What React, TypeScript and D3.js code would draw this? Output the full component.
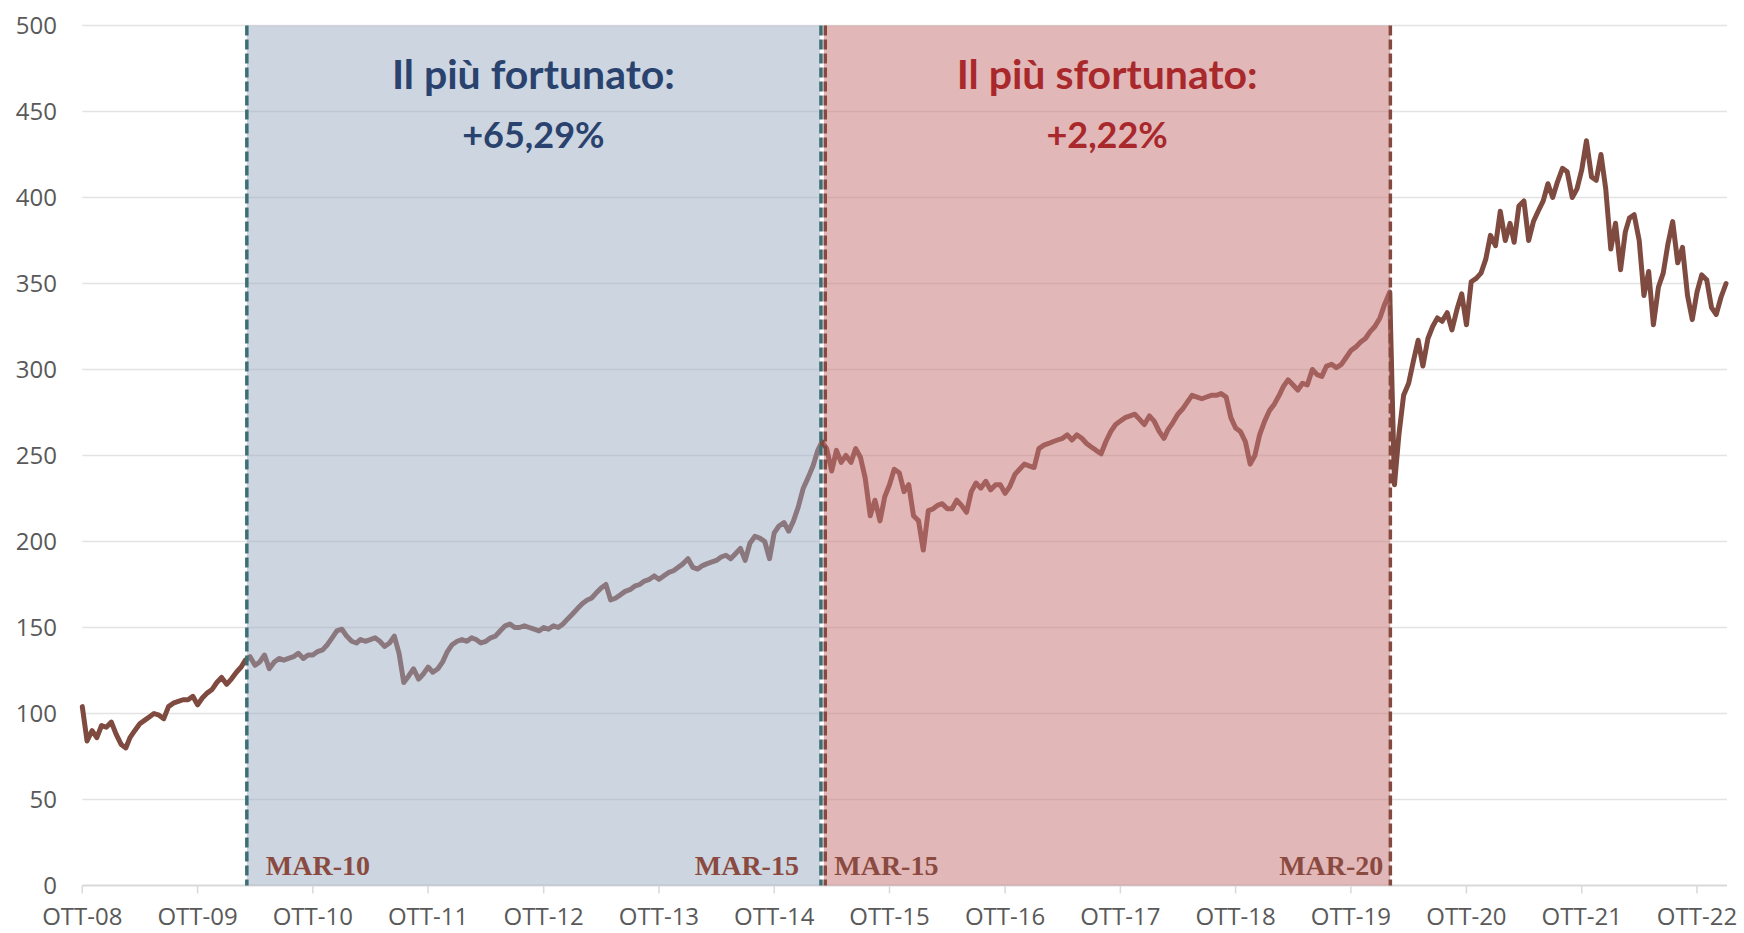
import React, { useRef, useEffect } from 'react';
import * as d3 from 'd3';

// tick labels
const xTickLabels = [
  'OTT-08', 'OTT-09', 'OTT-10', 'OTT-11', 'OTT-12', 'OTT-13', 'OTT-14', 'OTT-15',
  'OTT-16', 'OTT-17', 'OTT-18', 'OTT-19', 'OTT-20', 'OTT-21', 'OTT-22',
];
const yTicks = [0, 50, 100, 150, 200, 250, 300, 350, 400, 450, 500];

// index values, read twice a month (1st and 16th), one array per OTT year
const v08 = [104, 84, 90, 86, 93, 92, 95, 88, 82, 80, 86, 90, 94, 96, 98, 100, 99, 97, 104, 106, 107, 108, 108, 110];
const v09 = [105, 109, 112, 114, 118, 121, 117, 120, 124, 127, 131, 133, 128, 130, 134, 126, 130, 132, 131, 132, 133, 135, 132, 134];
const v10 = [134, 136, 137, 140, 144, 148, 149, 145, 142, 141, 143, 142, 143, 144, 142, 139, 141, 145, 135, 118, 122, 126, 120, 123];
const v11 = [127, 124, 126, 130, 136, 140, 142, 143, 142, 144, 143, 141, 142, 144, 145, 148, 151, 152, 150, 150, 151, 150, 149, 148];
const v12 = [150, 149, 151, 150, 152, 155, 158, 161, 164, 166, 167, 170, 173, 175, 166, 167, 169, 171, 172, 174, 175, 177, 178, 180];
const v13 = [178, 180, 182, 183, 185, 187, 190, 185, 184, 186, 187, 188, 189, 191, 192, 190, 193, 196, 189, 199, 203, 202, 200, 190];
const v14 = [205, 209, 211, 206, 212, 220, 231, 237, 244, 253, 258, 254, 241, 253, 246, 250, 246, 254, 249, 237, 215, 224, 212, 226];
const v15 = [233, 242, 240, 229, 233, 215, 212, 195, 218, 219, 221, 222, 219, 219, 224, 221, 217, 229, 234, 231, 235, 230, 233, 233];
const v16 = [228, 232, 239, 242, 245, 244, 243, 254, 256, 257, 258, 259, 260, 262, 259, 262, 260, 257, 255, 253, 251, 258, 264, 268];
const v17 = [270, 272, 273, 274, 271, 268, 273, 270, 264, 260, 265, 269, 274, 277, 281, 285, 284, 283, 284, 285, 285, 286, 284, 272];
const v18 = [266, 264, 258, 245, 250, 262, 270, 276, 280, 285, 290, 294, 291, 288, 292, 291, 300, 297, 296, 302, 303, 301, 303, 307];
const v19 = [311, 313, 316, 318, 322, 325, 330, 338, 345, 233, 262, 285, 292, 305, 317, 302, 318, 325, 330, 328, 333, 323, 335, 344];
const v20 = [326, 351, 353, 356, 364, 378, 372, 392, 375, 385, 374, 395, 398, 375, 386, 392, 398, 408, 400, 409, 417, 415, 400, 405];
const v21 = [416, 433, 412, 410, 425, 405, 370, 385, 358, 380, 388, 390, 375, 343, 357, 326, 348, 356, 373, 386, 362, 371, 343, 329];
const v22 = [345, 355, 352, 336, 332, 342, 350];
const yearSeries = [v08, v09, v10, v11, v12, v13, v14, v15, v16, v17, v18, v19, v20, v21, v22];

// highlighted periods
const periodTitles = ['Il più fortunato:', 'Il più sfortunato:'];
const periodResults = ['+65,29%', '+2,22%'];
const periodStarts = ['2010-03-06', '2015-02-26'];
const periodEnds = ['2015-02-26', '2020-02-03'];
const startLabels = ['MAR-10', 'MAR-15'];
const endLabels = ['MAR-15', 'MAR-20'];

const fills = ['rgb(153,169,192)', 'rgb(197,117,119)'];
const fillOpacity = [0.49, 0.52];
const dashColors = ['#3d6f75', '#844a40'];
const titleColors = ['#29426e', '#a8282c'];

const W = 1744;
const H = 933;
const left = 82.3;
const right = 1727;
const top = 25.5;
const bottom = 885.5;

function App() {
  const ref = useRef<SVGSVGElement | null>(null);

  useEffect(() => {
    if (!ref.current) return;
    const svg = d3.select(ref.current);
    svg.selectAll('*').remove();

    const parse = d3.timeParse('%Y-%m-%d');
    const data: { date: Date; value: number }[] = [];
    yearSeries.forEach((vals, i) => {
      vals.forEach((v, k) => {
        data.push({ date: new Date(2008 + i, 9 + Math.floor(k / 2), k % 2 ? 16 : 1), value: v });
      });
    });

    const x = d3
      .scaleTime()
      .domain([new Date(2008, 9, 1), new Date(2023, 0, 4)])
      .range([left, right]);
    const y = d3.scaleLinear().domain([0, 500]).range([bottom, top]);
    const tickDates = xTickLabels.map((_, i) => new Date(2008 + i, 9, 1));

    // grid
    svg
      .append('g')
      .selectAll('line')
      .data(yTicks.filter((t) => t > 0))
      .join('line')
      .attr('x1', left)
      .attr('x2', right)
      .attr('y1', (d) => y(d))
      .attr('y2', (d) => y(d))
      .attr('stroke', '#e3e3e3')
      .attr('stroke-width', 1.5);

    // y labels
    svg
      .append('g')
      .selectAll('text')
      .data(yTicks)
      .join('text')
      .attr('x', 57)
      .attr('y', (d) => y(d))
      .attr('dy', '0.36em')
      .attr('text-anchor', 'end')
      .attr('font-family', '"Open Sans", sans-serif')
      .attr('font-size', 24)
      .attr('fill', '#595959')
      .text((d) => d);

    // x axis
    svg
      .append('line')
      .attr('x1', left)
      .attr('x2', right)
      .attr('y1', y(0))
      .attr('y2', y(0))
      .attr('stroke', '#d9d9d9')
      .attr('stroke-width', 2);
    svg
      .append('g')
      .selectAll('line')
      .data(tickDates)
      .join('line')
      .attr('x1', (d) => x(d))
      .attr('x2', (d) => x(d))
      .attr('y1', y(0))
      .attr('y2', y(0) + 8)
      .attr('stroke', '#d9d9d9')
      .attr('stroke-width', 1.5);
    svg
      .append('g')
      .selectAll('text')
      .data(tickDates)
      .join('text')
      .attr('x', (d) => x(d))
      .attr('y', 925)
      .attr('text-anchor', 'middle')
      .attr('font-family', '"Open Sans", sans-serif')
      .attr('font-size', 24)
      .attr('fill', '#595959')
      .text((_, i) => xTickLabels[i]);

    // the index line
    svg
      .append('path')
      .datum(data)
      .attr('fill', 'none')
      .attr('stroke', '#7f4a40')
      .attr('stroke-width', 5)
      .attr('stroke-linejoin', 'round')
      .attr('stroke-linecap', 'round')
      .attr(
        'd',
        d3
          .line<{ date: Date; value: number }>()
          .x((d) => x(d.date))
          .y((d) => y(d.value)),
      );

    // shaded periods, dashed borders and labels
    periodTitles.forEach((title, i) => {
      const x0 = x(parse(periodStarts[i]) as Date) + (i === 1 ? 3 : 0);
      const x1 = x(parse(periodEnds[i]) as Date) - (i === 0 ? 1 : 0);
      svg
        .append('rect')
        .attr('x', x0)
        .attr('y', y(500))
        .attr('width', x1 - x0)
        .attr('height', y(0) - y(500))
        .attr('fill', fills[i])
        .attr('fill-opacity', fillOpacity[i]);

      const xa = i === 1 ? x0 + 1.3 : x0;
      const xb = i === 0 ? x1 + 1 : x1;
      [xa, xb].forEach((xx) => {
        svg
          .append('line')
          .attr('x1', xx)
          .attr('x2', xx)
          .attr('y1', y(500))
          .attr('y2', y(0))
          .attr('stroke', dashColors[i])
          .attr('stroke-width', 3.5)
          .attr('stroke-dasharray', '10,4');
      });

      const cx = (x0 + x1) / 2;
      svg
        .append('text')
        .attr('x', cx)
        .attr('y', 89)
        .attr('text-anchor', 'middle')
        .attr('font-family', 'Lato, sans-serif')
        .attr('font-weight', 700)
        .attr('font-size', 41)
        .attr('fill', titleColors[i])
        .text(title);
      svg
        .append('text')
        .attr('x', cx)
        .attr('y', 148)
        .attr('text-anchor', 'middle')
        .attr('font-family', 'Lato, sans-serif')
        .attr('font-weight', 700)
        .attr('font-size', 36)
        .attr('fill', titleColors[i])
        .text(periodResults[i]);

      svg
        .append('text')
        .attr('x', xa + (i === 0 ? 19 : 9))
        .attr('y', 875)
        .attr('font-family', '"Liberation Serif", serif')
        .attr('font-weight', 700)
        .attr('font-size', 28)
        .attr('fill', '#8a4a40')
        .text(startLabels[i]);
      svg
        .append('text')
        .attr('x', xb - (i === 0 ? 22 : 7))
        .attr('y', 875)
        .attr('text-anchor', 'end')
        .attr('font-family', '"Liberation Serif", serif')
        .attr('font-weight', 700)
        .attr('font-size', 28)
        .attr('fill', '#8a4a40')
        .text(endLabels[i]);
    });
  }, []);

  return (
    <svg
      ref={ref}
      width={W}
      height={H}
      style={{ position: 'absolute', left: 0, top: 0, background: '#fff' }}
    />
  );
}

export default App;
